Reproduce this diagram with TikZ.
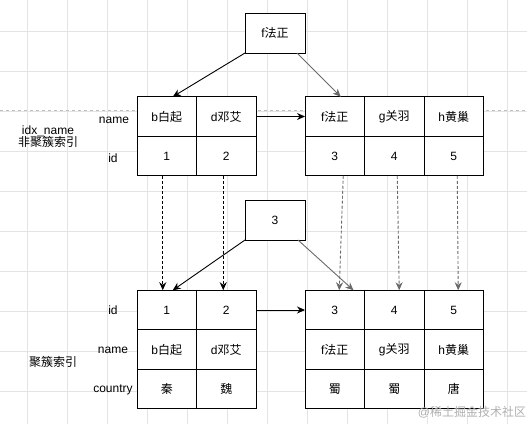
\documentclass[tikz,border=0pt]{standalone}
\usepackage{fontspec}
\setmainfont{Liberation Sans}
\newfontfamily\cjkfont{Noto Sans CJK SC}
\usepackage{xcolor}
\definecolor{gridgray}{RGB}{228,228,228}
\definecolor{pagegray}{RGB}{190,190,190}
\definecolor{linkgray}{RGB}{105,105,105}
\definecolor{markgray}{RGB}{175,175,175}
\usetikzlibrary{arrows.meta,positioning}
\newcommand{\zh}[1]{{\cjkfont #1}}
\newcommand{\fs}{\fontsize{12pt}{14pt}\selectfont}
\tikzset{
  cell/.style={draw=black, fill=white, line width=1pt,
               minimum width=59.5pt, minimum height=39.5pt,
               inner sep=0pt, outer sep=0pt, font=\fs},
  keybox/.style={draw=black, fill=white, line width=1pt,
                 minimum width=60pt, minimum height=40pt,
                 inner sep=0pt, outer sep=0pt, font=\fs},
  lbl/.style={font=\fs, align=center},
  link/.style={-{Stealth[length=8pt,width=7pt]}, line width=0.9pt},
  ptr/.style={link, dashed, dash pattern=on 3pt off 2pt},
}
\begin{document}
\begin{tikzpicture}[x=1pt,y=-1pt]
\useasboundingbox (0,0) rectangle (527,424);
% background grid
\foreach \gx in {27,67,...,507}
  \draw[gridgray, line width=0.6pt] (\gx,0) -- (\gx,424);
\foreach \gy in {31,71,...,391}
  \draw[gridgray, line width=0.6pt] (0,\gy) -- (527,\gy);
\draw[pagegray, dashed, line width=0.6pt] (0,110) -- (527,110);

% secondary index idx_name
\node[keybox] (secroot) at (275,33) {f\zh{法正}};
\foreach \nm/\id [count=\i] in {b\zh{白起}/1, d\zh{邓艾}/2}
  \node[cell] (sa\i) at ({137+59.5*(\i-0.5)},116.5) {\nm};
\foreach \nm/\id [count=\i] in {b\zh{白起}/1, d\zh{邓艾}/2}
  \node[cell, below=0pt of sa\i] (sai\i) {\id};
\foreach \nm/\id [count=\i] in {f\zh{法正}/3, g\zh{关羽}/4, h\zh{黄巢}/5}
  \node[cell] (sb\i) at ({305+59.5*(\i-0.5)},116.5) {\nm};
\foreach \nm/\id [count=\i] in {f\zh{法正}/3, g\zh{关羽}/4, h\zh{黄巢}/5}
  \node[cell, below=0pt of sb\i] (sbi\i) {\id};

\node[lbl] (secname) at (114,120) {name};
\node[lbl] (secid) at (113,158) {id};
\node[lbl] (sectitle) at (48,137) {idx\_name\\[-2pt]\zh{非聚簇索引}};

\draw[link] (secroot.south west) -- ([xshift=6pt]sa1.north);
\draw[link, linkgray] ([xshift=-8pt]secroot.south east) -- ([xshift=6pt]sb1.north);
\draw[link] (sa2.east) -- (sb1.west);

% clustered index
\node[keybox] (pkroot) at (275,220) {3};
\foreach \id/\nm/\ct [count=\i] in {1/b\zh{白起}/\zh{秦}, 2/d\zh{邓艾}/\zh{魏}}
  \node[cell] (pa\i) at ({137+59.5*(\i-0.5)},310) {\id};
\foreach \id/\nm/\ct [count=\i] in {1/b\zh{白起}/\zh{秦}, 2/d\zh{邓艾}/\zh{魏}}
  \node[cell, below=0pt of pa\i] (pan\i) {\nm};
\foreach \id/\nm/\ct [count=\i] in {1/b\zh{白起}/\zh{秦}, 2/d\zh{邓艾}/\zh{魏}}
  \node[cell, below=0pt of pan\i] (pac\i) {\ct};
\foreach \id/\nm/\ct [count=\i] in {3/f\zh{法正}/\zh{蜀}, 4/g\zh{关羽}/\zh{蜀}, 5/h\zh{黄巢}/\zh{唐}}
  \node[cell] (pb\i) at ({305+59.5*(\i-0.5)},310) {\id};
\foreach \id/\nm/\ct [count=\i] in {3/f\zh{法正}/\zh{蜀}, 4/g\zh{关羽}/\zh{蜀}, 5/h\zh{黄巢}/\zh{唐}}
  \node[cell, below=0pt of pb\i] (pbn\i) {\nm};
\foreach \id/\nm/\ct [count=\i] in {3/f\zh{法正}/\zh{蜀}, 4/g\zh{关羽}/\zh{蜀}, 5/h\zh{黄巢}/\zh{唐}}
  \node[cell, below=0pt of pbn\i] (pbc\i) {\ct};

\node[lbl] (pkid) at (113,310) {id};
\node[lbl] (pkname) at (113,350) {name};
\node[lbl] (pkcountry) at (113,390) {country};
\node[lbl] (pktitle) at (53,362) {\zh{聚簇索引}};

\draw[link] (pkroot.south west) -- ([xshift=6pt]pa1.north);
\draw[link, linkgray] ([xshift=-7pt]pkroot.south east) -- ([xshift=-11pt]pb1.north east);
\draw[link] (pa2.east) -- (pb1.west);

% lookups back to the rows
\draw[ptr] ([xshift=-4pt]sai1.south) -- ([xshift=-4pt]pa1.north);
\draw[ptr] ([xshift=-3pt]sai2.south) -- ([xshift=-3pt]pa2.north);
\draw[ptr, linkgray] ([xshift=8.5pt]sbi1.south) -- ([xshift=4.5pt]pb1.north);
\draw[ptr, linkgray] ([xshift=3pt]sbi2.south) -- ([xshift=5pt]pb2.north);
\draw[ptr, linkgray] ([xshift=3.5pt]sbi3.south) -- ([xshift=4.5pt]pb3.north);

\node[font=\fs, text=markgray] (mark) at (472,412) {@\zh{稀土掘金技术社区}};
\end{tikzpicture}
\end{document}
